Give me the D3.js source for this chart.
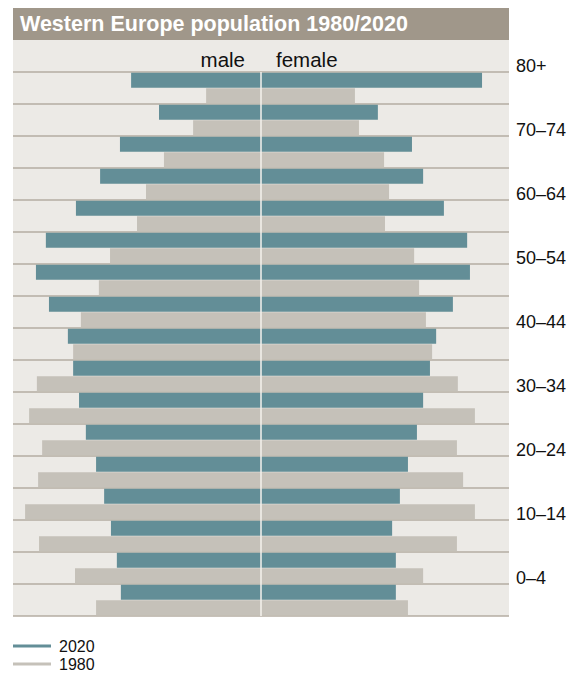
<!DOCTYPE html>
<html>
<head>
<meta charset="utf-8">
<script src="https://cdn.jsdelivr.net/npm/d3@7"></script>
<style>
  body { margin: 0; background: #ffffff; }
  svg { display: block; font-family: "Liberation Sans", Arial, Helvetica, sans-serif; }
</style>
</head>
<body>
<svg id="chart" width="575" height="677"></svg>
<script>
// Age groups, bottom (youngest) to top (oldest)
const ageGroups = ["0–4","5–9","10–14","15–19","20–24","25–29","30–34","35–39","40–44",
                   "45–49","50–54","55–59","60–64","65–69","70–74","75–79","80+"];
const tickLabels = ["0–4","10–14","20–24","30–34","40–44","50–54","60–64","70–74","80+"];

// Population (millions), same order as ageGroups
const male2020   = [4.52,4.65,4.84,5.06,5.32,5.65,5.87,6.06,6.23,6.84,7.26,6.94,5.97,5.19,4.55,3.29,4.19];
const female2020 = [4.35,4.35,4.23,4.48,4.74,5.03,5.23,5.45,5.65,6.19,6.74,6.65,5.90,5.23,4.87,3.77,7.13];
const male1980   = [5.32,6.00,7.16,7.61,7.19,7.06,7.48,7.23,6.06,5.81,5.23,4.87,4.00,3.71,3.13,2.19,1.77];
const female1980 = [4.74,5.23,6.32,6.90,6.52,6.32,6.90,6.35,5.52,5.32,5.10,4.94,4.00,4.13,3.97,3.16,3.03];

const seriesNames = ["2020","1980"];
const colors = { "2020": "#638e97", "1980": "#c5c1b9" };

const svg = d3.select("#chart");
const plotL = 13, plotR = 509, center = 261, plotTop = 40, rowsTop = 72, rowsBottom = 616;
const maxVal = 8;

const xMale = d3.scaleLinear().domain([0, maxVal]).range([center, plotL]);
const xFemale = d3.scaleLinear().domain([0, maxVal]).range([center, plotR]);
const y = d3.scaleBand().domain(ageGroups.slice().reverse()).range([rowsTop, rowsBottom]).padding(0);
const bh = y.bandwidth();

// Title bar
svg.append("rect").attr("x", plotL).attr("y", 8).attr("width", plotR - plotL).attr("height", plotTop - 8)
  .attr("fill", "#a0978a");
svg.append("text").attr("x", 20).attr("y", 31).attr("fill", "#ffffff")
  .attr("font-weight", "bold").attr("font-size", "21.5px").text("Western Europe population 1980/2020");

// Plot background
svg.append("rect").attr("x", plotL).attr("y", plotTop).attr("width", plotR - plotL).attr("height", rowsBottom - plotTop)
  .attr("fill", "#eceae6");

// Row separator lines
const lineYs = ageGroups.map(a => y(a)).concat([rowsBottom]);
svg.append("g").selectAll("line").data(lineYs).join("line")
  .attr("x1", plotL).attr("x2", plotR).attr("y1", d => d).attr("y2", d => d)
  .attr("stroke", "#b4ada2").attr("stroke-width", 1.5);

// Bars
const rows = ageGroups.map((a, i) => ({ age: a, m20: male2020[i], f20: female2020[i], m80: male1980[i], f80: female1980[i] }));
const gBars = svg.append("g");
const offs = { "2020": 0.75, "1980": 16.25 };
const barH = 15;
function addBars(key, valM, valF) {
  gBars.append("g").selectAll("rect").data(rows).join("rect")
    .attr("x", d => xMale(d[valM])).attr("y", d => y(d.age) + offs[key])
    .attr("width", d => center - xMale(d[valM])).attr("height", barH)
    .attr("fill", colors[key]);
  gBars.append("g").selectAll("rect").data(rows).join("rect")
    .attr("x", center).attr("y", d => y(d.age) + offs[key])
    .attr("width", d => xFemale(d[valF]) - center).attr("height", barH)
    .attr("fill", colors[key]);
}
addBars("2020", "m20", "f20");
addBars("1980", "m80", "f80");

// Center line
svg.append("line").attr("x1", center).attr("x2", center).attr("y1", rowsTop).attr("y2", rowsBottom)
  .attr("stroke", "#f4f2ee").attr("stroke-width", 1.5);

// male / female headers
svg.append("text").attr("x", 245).attr("y", 67).attr("text-anchor", "end").attr("font-size", "20.5px")
  .attr("fill", "#111").text("male");
svg.append("text").attr("x", 276).attr("y", 67).attr("font-size", "20.5px")
  .attr("fill", "#111").text("female");

// Age axis (right)
const axis = d3.axisRight(y).tickValues(tickLabels).tickSize(0).tickPadding(0);
const gAxis = svg.append("g").attr("transform", `translate(${plotR},0)`).call(axis);
gAxis.select(".domain").remove();
gAxis.selectAll("text").attr("x", 7).attr("y", -bh / 2).attr("dy", "0")
  .attr("font-size", "18px").attr("font-family", "Liberation Sans, Arial, sans-serif").attr("fill", "#111");

// Legend
const legend = svg.append("g");
seriesNames.forEach((s, i) => {
  const ly = 646 + i * 18;
  legend.append("line").attr("x1", 13).attr("x2", 51).attr("y1", ly).attr("y2", ly)
    .attr("stroke", colors[s]).attr("stroke-width", 3);
  legend.append("text").attr("x", 59).attr("y", ly + 5.5).attr("font-size", "16px").attr("fill", "#111").text(s);
});
</script>
</body>
</html>
